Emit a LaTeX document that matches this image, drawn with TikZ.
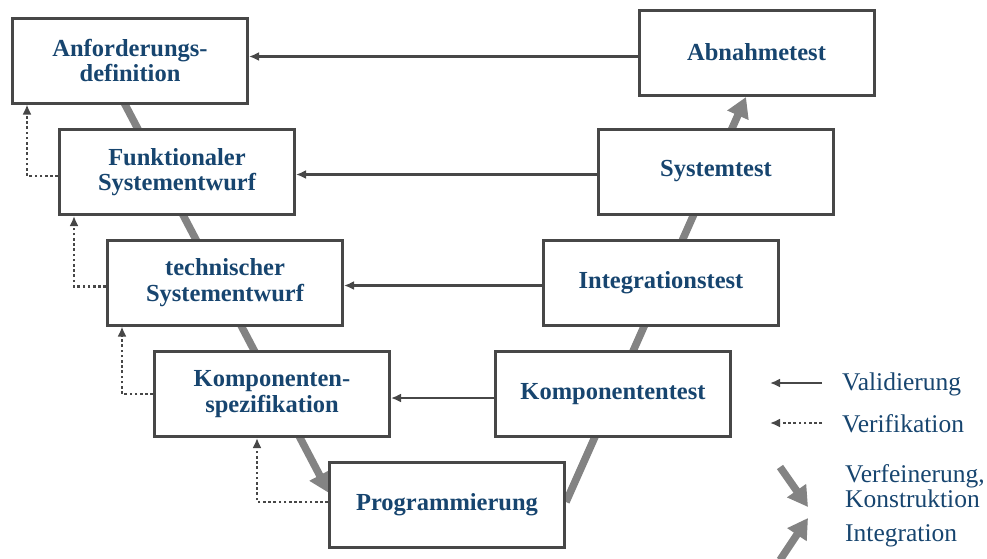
\documentclass[tikz,border=0pt]{standalone}
\usepackage{fontspec}
\setmainfont{Liberation Serif}
\usetikzlibrary{arrows.meta}
\definecolor{txtblue}{HTML}{17456F}
\definecolor{framegray}{HTML}{474747}
\definecolor{vgray}{HTML}{838383}
\tikzset{
  phase/.style={draw=framegray, line width=3pt, fill=white, text=txtblue,
    minimum width=235pt, minimum height=85pt, align=center, inner sep=2pt,
    font=\bfseries\fontsize{24.5}{25.5}\selectfont},
  valarrow/.style={draw=framegray, line width=2.8pt, -{Latex[length=10pt,width=9pt]}},
  verarrow/.style={draw=framegray, line width=2.8pt, dash pattern=on 2.6pt off 2.6pt,
    -{Latex[length=10pt,width=9pt]}},
  vleg/.style={draw=vgray, line width=7.5pt, -{Triangle[length=20pt,width=22pt]}},
  legtext/.style={anchor=west, text=txtblue, align=left, inner sep=0pt,
    font=\fontsize{25.5}{25}\selectfont}
}
\begin{document}
\begin{tikzpicture}[x=1pt,y=-1pt]
\useasboundingbox (0,0) rectangle (987,558);

% ends of the two legs of the V
\coordinate (lstart) at (119,93);
\coordinate (ltip) at (329,493);
\coordinate (rstart) at (566,502);
\coordinate (rtip) at (746,97);

% legs of the V, drawn behind the phase boxes
\draw[vleg] (lstart) -- (ltip);
\draw[vleg] (rstart) -- (rtip);

% phases
\node[phase] (anf) at (130,60.5) {Anforderungs-\\definition};
\node[phase] (fsys) at (177,172) {Funktionaler\\Systementwurf};
\node[phase] (tsys) at (225,282.5) {technischer\\Systementwurf};
\node[phase] (kspec) at (272,394) {Komponenten-\\spezifikation};
\node[phase] (prog) at (447,505) {Programmierung};
\node[phase] (ktest) at (613,394) {Komponententest};
\node[phase] (itest) at (661,282.5) {Integrationstest};
\node[phase] (stest) at (716,171.5) {Systemtest};
\node[phase] (atest) at (756.5,52.5) {Abnahmetest};

% validation
\draw[valarrow] ([yshift=-4pt]atest.west) -- ([yshift=-4pt]anf.east |- atest.west);
\draw[valarrow] ([yshift=-3pt]stest.west) -- ([yshift=-3pt]fsys.east |- stest.west);
\draw[valarrow] ([yshift=-3pt]itest.west) -- ([yshift=-3pt]tsys.east |- itest.west);
\draw[valarrow] ([yshift=-4pt]ktest.west) -- ([yshift=-4pt]kspec.east |- ktest.west);

% verification
\draw[verarrow] ([yshift=-4pt]fsys.west) -| ([xshift=16pt]anf.south west);
\draw[verarrow] ([yshift=-4pt]tsys.west) -| ([xshift=16pt]fsys.south west);
\draw[verarrow] (kspec.west) -| ([xshift=16pt]tsys.south west);
\draw[verarrow] ([yshift=3pt]prog.west) -| ([xshift=104pt]kspec.south west);

% legend
\coordinate (lva) at (822,383);
\coordinate (lvb) at (770,383);
\coordinate (lea) at (822,423);
\coordinate (leb) at (770,423);
\coordinate (lka) at (780,467);
\coordinate (lkb) at (808,507);
\coordinate (lia) at (780,560);
\coordinate (lib) at (808,518);
\draw[valarrow] (lva) -- (lvb);
\draw[verarrow] (lea) -- (leb);
\draw[vleg] (lka) -- (lkb);
\draw[vleg] (lia) -- (lib);
\node[legtext] (tval) at (842,384) {Validierung};
\node[legtext] (tver) at (842,424) {Verifikation};
\node[legtext] (tkon) at (845,486) {Verfeinerung,\\Konstruktion};
\node[legtext] (tint) at (845,536) {Integration};
\end{tikzpicture}
\end{document}
